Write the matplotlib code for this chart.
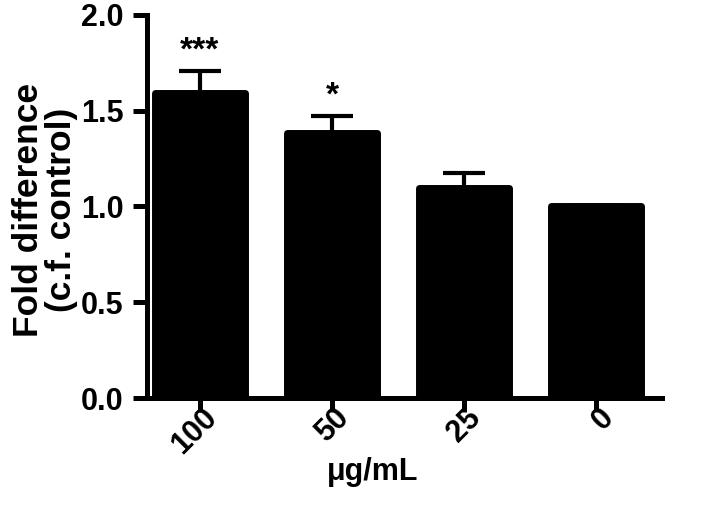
import numpy as np
import matplotlib
matplotlib.use('Agg')
import matplotlib.pyplot as plt
from matplotlib.transforms import ScaledTranslation

# data
doses = ['100', '50', '25', '0']
fold = [1.592, 1.382, 1.097, 1.0]
sem = [0.113, 0.088, 0.078, 0.0]
stars = ['***', '*', '', '']

plt.rcParams['font.family'] = ['Liberation Sans', 'DejaVu Sans']
plt.rcParams['font.weight'] = 'bold'

fig = plt.figure(figsize=(7.02, 5.11), dpi=100)
ax = fig.add_axes([0.2094, 0.221, 0.734, 0.750])

x = np.arange(len(doses))
bars = ax.bar(x, fold, width=0.68, color='black', edgecolor='black', linewidth=5)
for b in bars:
    b.set_joinstyle('round')
ax.errorbar(x, fold, yerr=[np.zeros(len(sem)), sem], fmt='none', ecolor='black',
            elinewidth=3, capsize=15, capthick=3)

for xi, f, e, s in zip(x, fold, sem, stars):
    if s:
        ax.text(xi, f + e + 0.105, s, ha='center', va='center', fontsize=24, fontweight='bold')

ax.set_xlim(-0.4, 3.5)
ax.set_ylim(0, 2.0)
ax.set_yticks([0, 0.5, 1.0, 1.5, 2.0])
ax.set_yticklabels(['0.0', '0.5', '1.0', '1.5', '2.0'])
ax.set_xticks(x)
ax.set_xticklabels(doses, rotation=45, ha='right', va='center', rotation_mode='anchor')

for side in ['top', 'right']:
    ax.spines[side].set_visible(False)
for side in ['left', 'bottom']:
    ax.spines[side].set_linewidth(3.6)
ax.tick_params(width=3.6, length=10, labelsize=22, pad=7)
ax.tick_params(axis='x', pad=1)
# shift the rotated labels a bit right, like the original
shift = ScaledTranslation(9 / 72, 0, fig.dpi_scale_trans)
for lbl in ax.get_xticklabels():
    lbl.set_transform(lbl.get_transform() + shift)

ax.set_ylabel('Fold difference\n(c.f. control)', fontsize=25.5, fontweight='bold', linespacing=1.0)
ax.yaxis.set_label_coords(-0.134, 0.49)
ax.set_xlabel('\u03bcg/mL', fontsize=22, fontweight='bold')
ax.xaxis.set_label_coords(0.437, -0.155)

fig.savefig('out.png', dpi=100)
